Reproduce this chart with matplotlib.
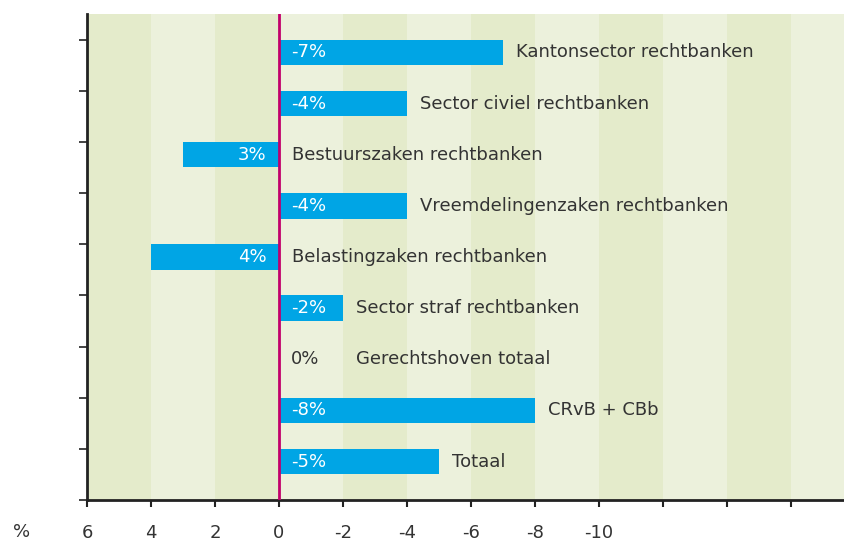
import matplotlib
matplotlib.use("Agg")
import matplotlib.pyplot as plt
import numpy as np

categories = ["Kantonsector rechtbanken", "Sector civiel rechtbanken", "Bestuurszaken rechtbanken",
              "Vreemdelingenzaken rechtbanken", "Belastingzaken rechtbanken", "Sector straf rechtbanken",
              "Gerechtshoven totaal", "CRvB + CBb", "Totaal"]
values = [-7, -4, 3, -4, 4, -2, 0, -8, -5]
xticks = [6, 4, 2, 0, -2, -4, -6, -8, -10, -12, -14, -16]
xtick_labels = ["6", "4", "2", "0", "-2", "-4", "-6", "-8", "-10", "", "", ""]

plt.rcParams['font.family'] = ['DejaVu Sans']
fig = plt.figure(figsize=(8.44, 5.40), dpi=100)
ax = fig.add_axes([87/844, 40/540, 1 - 87/844, 486/540])

xmin, xmax = 6, 6 - (844 - 87) / 32
ax.set_xlim(xmin, xmax)
n = len(categories)
ax.set_ylim(n - 0.25, -0.75)

# background stripes
dark, light = "#e4ebcb", "#ecf1dc"
edges = np.arange(6, -20, -2)
for k in range(len(edges) - 1):
    ax.axvspan(edges[k], edges[k + 1], color=dark if k % 2 == 0 else light, lw=0, zorder=0)

ypos = np.arange(n)
ax.barh(ypos, values, height=0.5, color="#00a5e5", zorder=2)
ax.axvline(0, color="#c2006b", lw=2, zorder=3)

txt = "#333333"
fs = 13
for y, v, c in zip(ypos, values, categories):
    lab = f"{v}%"
    if v < 0:
        ax.annotate(lab, (0, y), xytext=(8.5, 0), textcoords="offset points", ha="left", va="center",
                    color="white", fontsize=fs, zorder=4)
        anchor = v
    elif v > 0:
        ax.annotate(lab, (0, y), xytext=(-9, 0), textcoords="offset points", ha="right", va="center",
                    color="white", fontsize=fs, zorder=4)
        anchor = 0
    else:
        ax.annotate(lab, (0, y), xytext=(8.5, 0), textcoords="offset points", ha="left", va="center",
                    color=txt, fontsize=fs, zorder=4)
        anchor = -2
    ax.annotate(c, (anchor, y), xytext=(9.5, 0), textcoords="offset points", ha="left", va="center",
                color=txt, fontsize=fs, zorder=4)

ax.set_yticks(np.arange(-0.25, n, 1.0))
ax.set_yticklabels([])
ax.tick_params(axis="y", length=6, width=1.2, color="#222222")
ax.set_xticks(xticks)
ax.set_xticklabels(xtick_labels, fontsize=fs, color=txt)
ax.tick_params(axis="x", length=5, width=1.5, color="#222222", pad=12)

for s in ["top", "right"]:
    ax.spines[s].set_visible(False)
for s in ["left", "bottom"]:
    ax.spines[s].set_linewidth(2)
    ax.spines[s].set_color("#222222")

fig.text(22/844, 1 - 532/540, "%", ha="center", va="center", fontsize=fs, color=txt)

fig.savefig("out.png", dpi=100)
